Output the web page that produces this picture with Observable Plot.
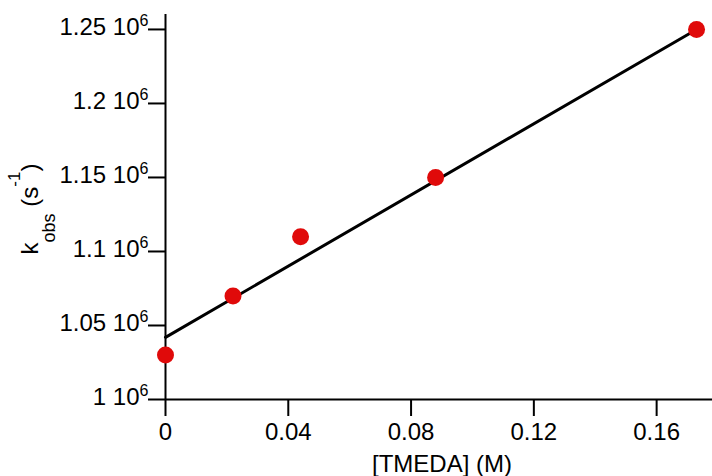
<!DOCTYPE html>
<html>
<head>
<meta charset="utf-8">
<script src="https://cdn.jsdelivr.net/npm/d3@7"></script>
<script src="https://cdn.jsdelivr.net/npm/@observablehq/plot@0.6"></script>
<style>
  html, body { margin: 0; padding: 0; background: #fff; }
  #chart svg { display: block; }
</style>
</head>
<body>
<div id="chart"></div>
<script>
// Data
const tmeda = [0, 0.022, 0.044, 0.088, 0.173];            // [TMEDA] (M)
const kobs  = [1.03e6, 1.07e6, 1.11e6, 1.15e6, 1.25e6];    // k_obs (s^-1)
// Fitted straight line
const fitX = [0, 0.173];
const fitY = [1.042e6, 1.25e6];
// Axis ticks
const xTicks = [0, 0.04, 0.08, 0.12, 0.16];
const xTickLabels = ["0", "0.04", "0.08", "0.12", "0.16"];
const yTicks = [1.0e6, 1.05e6, 1.1e6, 1.15e6, 1.2e6, 1.25e6];
const yTickMantissa = ["1", "1.05", "1.1", "1.15", "1.2", "1.25"];
const yTickExponent = ["6", "6", "6", "6", "6", "6"];
const xLabel = "[TMEDA] (M)";
const xDomain = [0, 0.1782];
const yDomain = [1.0e6, 1.2601e6];

const points = tmeda.map((x, i) => ({x, y: kobs[i]}));
const fit = fitX.map((x, i) => ({x, y: fitY[i]}));
const yt = yTicks.map((v, i) => ({v, main: yTickMantissa[i] + " 10", exp: yTickExponent[i]}));

const FONT = "'Liberation Sans', Arial, Helvetica, sans-serif";

const svg = Plot.plot({
  width: 712,
  height: 476,
  marginLeft: 165,
  marginRight: 0,
  marginTop: 14,
  marginBottom: 77,
  style: {fontFamily: FONT, fontSize: "24px", color: "#000", background: "#fff"},
  x: {domain: xDomain},
  y: {domain: yDomain},
  marks: [
    Plot.axisX(xTicks, {
      tickSize: 17, tickPadding: 6, strokeWidth: 2, fontSize: 24,
      tickFormat: d => xTickLabels[xTicks.indexOf(d)], label: null
    }),
    Plot.axisY(yTicks, {
      tickSize: 17, strokeWidth: 2, tickFormat: () => "", label: null
    }),
    Plot.ruleY([yDomain[0]], {x1: xDomain[0], x2: xDomain[1], stroke: "#000", strokeWidth: 2}),
    Plot.ruleX([xDomain[0]], {y1: yDomain[0], y2: yDomain[1], stroke: "#000", strokeWidth: 2}),
    Plot.text(yt, {y: "v", text: "main", frameAnchor: "left", textAnchor: "end", dx: -26, dy: -2, fontSize: 24, fill: "#000"}),
    Plot.text(yt, {y: "v", text: "exp", frameAnchor: "left", textAnchor: "end", dx: -17, dy: -9, fontSize: 16, fill: "#000"}),
    Plot.text([xLabel], {frameAnchor: "bottom", lineAnchor: "top", dx: 3, dy: 55, fontSize: 24, fill: "#000"}),
    Plot.line(fit, {x: "x", y: "y", stroke: "#000", strokeWidth: 3}),
    Plot.dot(points, {x: "x", y: "y", r: 8.5, fill: "#e00a0a", stroke: "none"})
  ]
});

// y-axis title with subscript/superscript
const title = d3.select(svg).append("text")
  .attr("transform", "translate(38,209) rotate(-90)")
  .attr("text-anchor", "middle")
  .attr("font-family", FONT)
  .attr("font-size", 24)
  .attr("fill", "#000");
title.append("tspan").text("k");
title.append("tspan").attr("font-size", 18).attr("dy", 17).text("obs");
title.append("tspan").attr("dy", -17).text(" (s");
title.append("tspan").attr("font-size", 17).attr("dy", -18).text("-1");
title.append("tspan").attr("dy", 18).text(")");

document.getElementById("chart").appendChild(svg);
</script>
</body>
</html>
